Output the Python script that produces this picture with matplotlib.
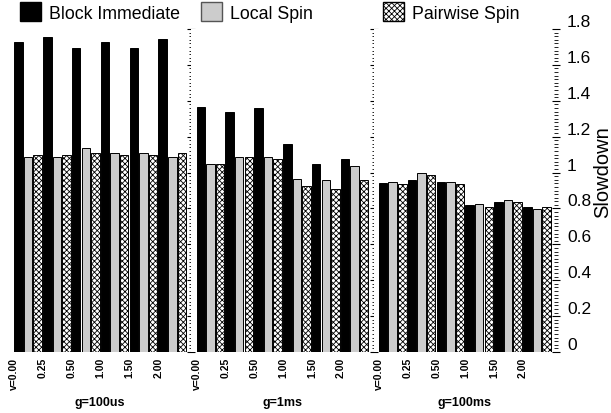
import matplotlib
matplotlib.use("Agg")
import matplotlib.pyplot as plt
from matplotlib.patches import Patch
from matplotlib.ticker import MultipleLocator, FormatStrFormatter

plt.rcParams['font.family'] = ['Liberation Sans', 'DejaVu Sans']
plt.rcParams['hatch.linewidth'] = 0.6

groups = ['g=100us', 'g=1ms', 'g=100ms']
v_labels = ['v=0.00', '0.25', '0.50', '1.00', '1.50', '2.00']
series = ['Block Immediate', 'Local Spin', 'Pairwise Spin']

# slowdown per group, one list per v value
block_immediate = [
    [1.728, 1.757, 1.696, 1.728, 1.696, 1.744],
    [1.368, 1.336, 1.357, 1.157, 1.047, 1.078],
    [0.940, 0.958, 0.947, 0.818, 0.836, 0.808],
]
local_spin = [
    [1.087, 1.087, 1.137, 1.107, 1.107, 1.087],
    [1.047, 1.087, 1.087, 0.965, 0.956, 1.037],
    [0.945, 0.995, 0.947, 0.827, 0.846, 0.796],
]
pairwise_spin = [
    [1.096, 1.096, 1.107, 1.098, 1.098, 1.107],
    [1.047, 1.087, 1.076, 0.926, 0.906, 0.956],
    [0.937, 0.986, 0.936, 0.808, 0.834, 0.807],
]

styles = [
    dict(color='black', edgecolor='black'),
    dict(color='#cccccc', edgecolor='black'),
    dict(color='white', edgecolor='black', hatch='xxxxxx'),
]

fig, axes = plt.subplots(1, 3, sharey=True, figsize=(6.11, 4.14), dpi=100)
fig.subplots_adjust(left=9 / 611, right=556 / 611, top=1 - 30 / 414, bottom=1 - 353 / 414, wspace=0)

for g, ax in enumerate(axes):
    values = [block_immediate[g], local_spin[g], pairwise_spin[g]]
    for s in range(3):
        xs = [c * 3 + s for c in range(len(v_labels))]
        ax.bar(xs, values[s], width=0.88, linewidth=0.7, **styles[s])

    ax.set_xlim(-0.98, 17.98)
    ax.set_ylim(0, 1.8)
    for side in ['left', 'right', 'top', 'bottom']:
        ax.spines[side].set_visible(False)

    ax.set_xticks([c * 3 - 0.44 for c in range(len(v_labels))])
    ax.set_xticklabels(v_labels, rotation=90, fontsize=7.5, fontweight='bold', va='top', ha='center')
    ax.tick_params(axis='x', length=0, pad=3.5)
    ax.set_xlabel(groups[g], fontsize=9, fontweight='bold', labelpad=5)

    ax.yaxis.set_major_locator(MultipleLocator(0.2))
    ax.yaxis.set_minor_locator(MultipleLocator(0.02))
    ax.yaxis.set_major_formatter(FormatStrFormatter('%g'))
    ax.tick_params(axis='y', which='both', left=False, right=True, direction='inout',
                   labelleft=False, labelright=(g == 2))
    ax.tick_params(axis='y', which='major', length=6, width=0.8, labelsize=12.5, pad=5)
    ax.tick_params(axis='y', which='minor', length=3, width=0.6)

for label in axes[2].get_yticklabels():
    label.set_va('bottom')

fig.text(603 / 611, 1 - 172 / 414, 'Slowdown', rotation=90, ha='center', va='center', fontsize=14.5)

# legend entries spread along the top
handles = [Patch(facecolor='black', edgecolor='black'),
           Patch(facecolor='#cccccc', edgecolor='#555555'),
           Patch(facecolor='white', edgecolor='black', hatch='xxxxxx')]
legend_x = [20, 201, 383]
for h, name, x in zip(handles, series, legend_x):
    fig.legend(handles=[h], labels=[name], loc='upper left', bbox_to_anchor=(x / 611, 1 - 3 / 414),
               frameon=False, fontsize=12.8, borderpad=0, borderaxespad=0,
               handlelength=1.2, handleheight=1.3, handletextpad=0.45)

fig.savefig('out.png', dpi=100)
